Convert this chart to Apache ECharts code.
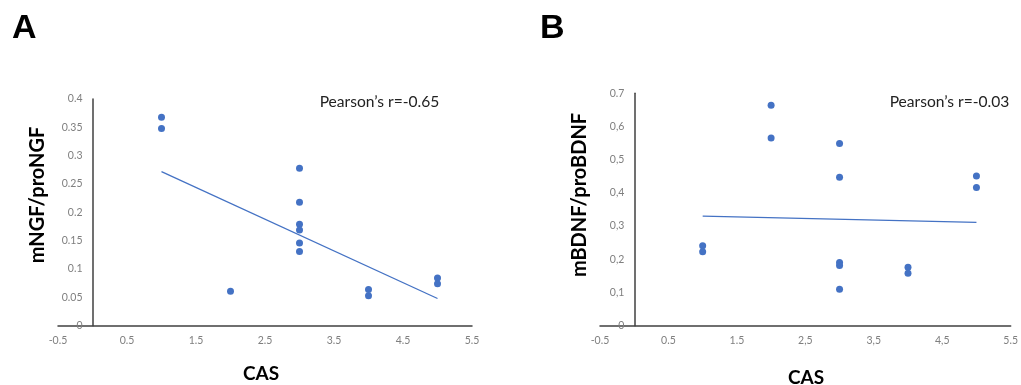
<!DOCTYPE html>
<html><head><meta charset="utf-8">
<script src="https://cdn.jsdelivr.net/npm/echarts@6/dist/echarts.min.js"></script>
<style>html,body{margin:0;padding:0;background:#fff}#c{width:1021px;height:385px}</style>
</head><body><div id="c"></div>
<script>
// Panel A: CAS vs mNGF/proNGF
const casA = [1, 1, 2, 3, 3, 3, 3, 3, 3, 4, 4, 5, 5];
const ngfRatio = [0.368, 0.348, 0.061, 0.278, 0.218, 0.179, 0.169, 0.146, 0.131, 0.064, 0.053, 0.084, 0.074];
const trendX = [1, 5];
const trendA = [0.272, 0.048];
// Panel B: CAS vs mBDNF/proBDNF
const casB = [1, 1, 2, 2, 3, 3, 3, 3, 3, 4, 4, 5, 5];
const bdnfRatio = [0.241, 0.223, 0.664, 0.565, 0.549, 0.447, 0.190, 0.181, 0.110, 0.176, 0.158, 0.451, 0.416];
const trendB = [0.330, 0.311];
// Tick labels
const xTicks = [-0.5, 0.5, 1.5, 2.5, 3.5, 4.5, 5.5];
const xLabelsA = ['-0.5', '0.5', '1.5', '2.5', '3.5', '4.5', '5.5'];
const xLabelsB = ['-0.5', '0.5', '1.5', '2,5', '3,5', '4,5', '5.5'];
const yTicksA = [0, 0.05, 0.1, 0.15, 0.2, 0.25, 0.3, 0.35, 0.4];
const yLabelsA = ['0', '0.05', '0.1', '0.15', '0.2', '0.25', '0.3', '0.35', '0.4'];
const yTicksB = [0, 0.1, 0.2, 0.3, 0.4, 0.5, 0.6, 0.7];
const yLabelsB = ['0', '0,1', '0,2', '0,3', '0,4', '0,5', '0,6', '0.7'];
const pearsonA = "Pearson’s r=-0.65";
const pearsonB = "Pearson’s r=-0.03";

const BLUE = '#4472C4';
function fmt(ticks, labels) {
  return function (v) {
    const i = ticks.findIndex(t => Math.abs(t - v) < 1e-6);
    return i >= 0 ? labels[i] : '';
  };
}
const zip = (xs, ys) => xs.map((x, i) => [x, ys[i]]);
const lblStyle = { color: '#7f7f7f', fontSize: 10.5, fontFamily: 'Lato' };
const axLine = { show: true, onZero: false, lineStyle: { color: '#404040', width: 1.5 } };

function xAxis(gi, labels) {
  return {
    type: 'value', gridIndex: gi, min: -0.5, max: 5.5,
    axisLine: axLine, axisTick: { show: false }, splitLine: { show: false },
    axisLabel: Object.assign({ customValues: xTicks, formatter: fmt(xTicks, labels), margin: 9 }, lblStyle)
  };
}
function yAxis(gi, ticks, labels, off) {
  return {
    type: 'value', gridIndex: gi, min: ticks[0], max: ticks[ticks.length - 1], offset: off,
    axisLine: axLine, axisTick: { show: false }, splitLine: { show: false },
    axisLabel: Object.assign({ customValues: ticks, formatter: fmt(ticks, labels), margin: 10 }, lblStyle)
  };
}

const chart = echarts.init(document.getElementById('c'), null, { renderer: 'canvas' });
chart.setOption({
  animation: false,
  backgroundColor: '#fff',
  grid: [
    { left: 58, top: 99, width: 414, height: 226.7 },
    { left: 600, top: 93.3, width: 413, height: 232.4 }
  ],
  xAxis: [xAxis(0, xLabelsA), xAxis(1, xLabelsB)],
  yAxis: [yAxis(0, yTicksA, yLabelsA, -34.5), yAxis(1, yTicksB, yLabelsB, -34.4)],
  series: [
    { type: 'scatter', xAxisIndex: 0, yAxisIndex: 0, data: zip(casA, ngfRatio), symbolSize: 7, itemStyle: { color: BLUE, opacity: 1 } },
    { type: 'line', xAxisIndex: 0, yAxisIndex: 0, data: zip(trendX, trendA), showSymbol: false, symbol: 'none', lineStyle: { color: BLUE, width: 1.3 } },
    { type: 'scatter', xAxisIndex: 1, yAxisIndex: 1, data: zip(casB, bdnfRatio), symbolSize: 7, itemStyle: { color: BLUE, opacity: 1 } },
    { type: 'line', xAxisIndex: 1, yAxisIndex: 1, data: zip(trendX, trendB), showSymbol: false, symbol: 'none', lineStyle: { color: BLUE, width: 1.3 } }
  ],
  graphic: [
    { type: 'text', left: 12, top: 12, style: { text: 'A', font: 'bold 34px "Liberation Sans"', fill: '#000' } },
    { type: 'text', left: 540, top: 12, style: { text: 'B', font: 'bold 34px "Liberation Sans"', fill: '#000' } },
    { type: 'text', x: 379.5, y: 102, style: { text: pearsonA, font: '15.6px Lato', fill: '#222', align: 'center', verticalAlign: 'middle' } },
    { type: 'text', x: 949.5, y: 102, style: { text: pearsonB, font: '15.6px Lato', fill: '#222', align: 'center', verticalAlign: 'middle' } },
    { type: 'text', x: 261, y: 374, style: { text: 'CAS', font: 'bold 19px Lato', fill: '#000', align: 'center', verticalAlign: 'middle' } },
    { type: 'text', x: 806, y: 378, style: { text: 'CAS', font: 'bold 19px Lato', fill: '#000', align: 'center', verticalAlign: 'middle' } },
    { type: 'text', x: 38, y: 195, rotation: Math.PI / 2, style: { text: 'mNGF/proNGF', font: 'bold 20px Lato', fill: '#000', align: 'center', verticalAlign: 'middle' } },
    { type: 'text', x: 580, y: 195, rotation: Math.PI / 2, style: { text: 'mBDNF/proBDNF', font: 'bold 20px Lato', fill: '#000', align: 'center', verticalAlign: 'middle' } }
  ]
});
</script>
</body></html>
